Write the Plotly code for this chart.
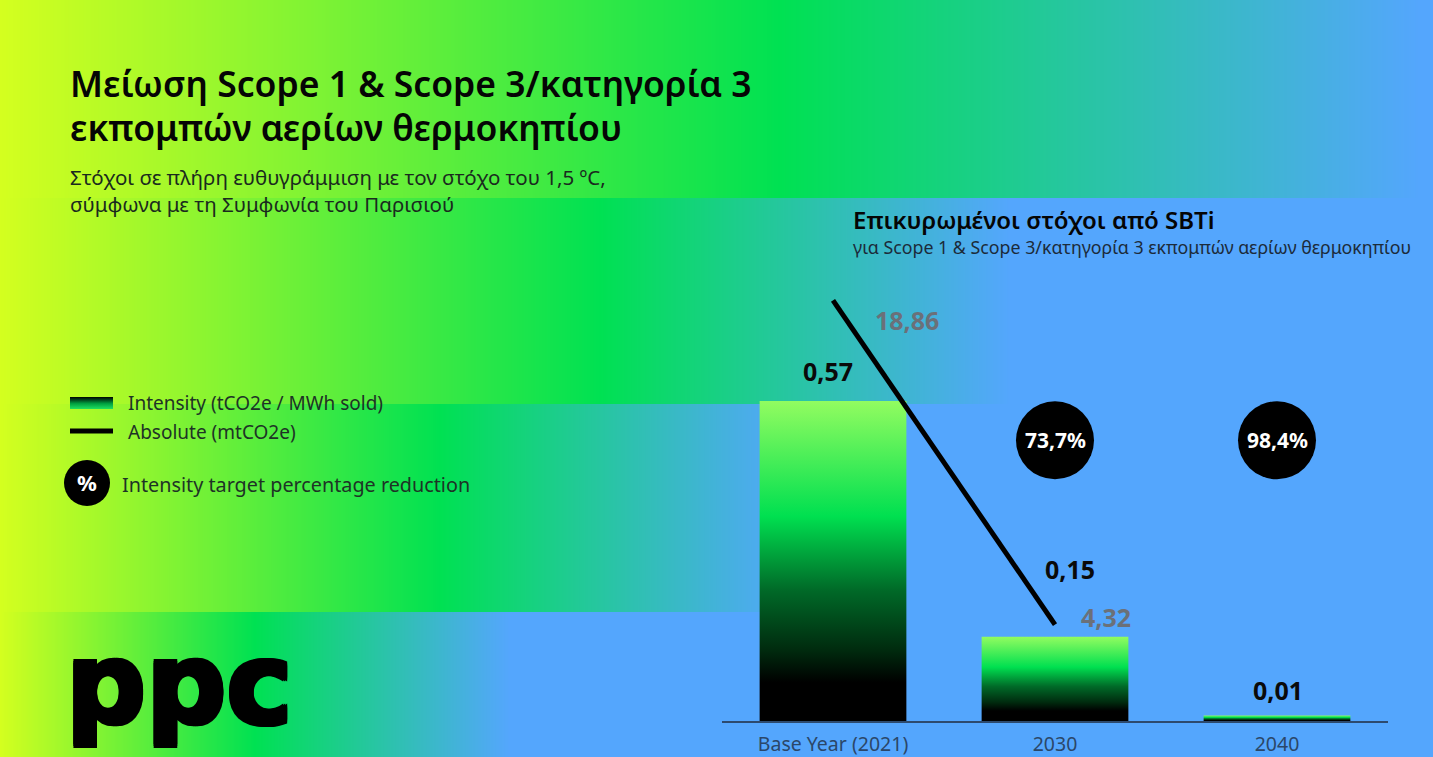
import numpy as np, zlib, struct, base64
import plotly.graph_objects as go

# ---------------- data ----------------
categories = ["Base Year (2021)", "2030", "2040"]
intensity = [0.57, 0.15, 0.01]            # tCO2e / MWh sold (bars)
absolute = [18.86, 4.32]                   # mtCO2e (line, Base Year -> 2030)
reduction = [None, "73,7%", "98,4%"]       # intensity target reduction

W, H = 1433, 757

def fmt(v):
    return f"{v:.2f}".replace(".", ",")

# ---------------- background image (banded gradient) ----------------
bands = [(0, 198, 780, 1420), (198, 404, 600, 1010), (404, 612, 440, 790), (612, 757, 255, 510)]
YEL = np.array([212, 255, 31], float)
GRN = np.array([0, 225, 82], float)
BLU = np.array([84, 166, 253], float)
img = np.zeros((H, W, 3), np.uint8)
xs = np.arange(W) + 0.5
for y0, y1, g, b in bands:
    t1 = np.clip(xs / g, 0, 1)[:, None]
    t2 = np.clip((xs - g) / (b - g), 0, 1)[:, None]
    row = np.where(xs[:, None] < g, YEL + (GRN - YEL) * t1, GRN + (BLU - GRN) * t2)
    img[y0:y1] = np.round(row).astype(np.uint8)
raw = b"".join(b"\x00" + img[r].tobytes() for r in range(H))

def chunk(tag, data):
    return struct.pack(">I", len(data)) + tag + data + struct.pack(">I", zlib.crc32(tag + data) & 0xffffffff)

png = (b"\x89PNG\r\n\x1a\n" + chunk(b"IHDR", struct.pack(">IIBBBBB", W, H, 8, 2, 0, 0, 0))
       + chunk(b"IDAT", zlib.compress(raw, 9)) + chunk(b"IEND", b""))
bg_uri = "data:image/png;base64," + base64.b64encode(png).decode()

def px(x):
    return x / W

def py(y):
    return 1 - y / H

FONT = "Noto Sans"
bar_scale = [[0, "#000000"], [0.12, "#000000"], [0.22, "#002a0e"], [0.41, "#006a28"],
             [0.64, "#00e050"], [1, "#92fc60"]]

fig = go.Figure()

# ---------------- bars (gradient-filled) ----------------
bw = 0.661
for i, v in enumerate(intensity):
    fig.add_trace(go.Scatter(
        x=[i - bw / 2, i + bw / 2, i + bw / 2, i - bw / 2, i - bw / 2],
        y=[0, 0, v, v, 0], mode="lines", line=dict(width=0),
        fill="toself", fillgradient=dict(type="vertical", colorscale=bar_scale),
        xaxis="x", yaxis="y", showlegend=False, hoverinfo="skip"))

# ---------------- absolute line ----------------
fig.add_trace(go.Scatter(x=[0, 1], y=absolute, mode="lines",
                         line=dict(color="#000000", width=5),
                         xaxis="x", yaxis="y2", showlegend=False, hoverinfo="skip"))

# ---------------- legend swatch (pixel axes) ----------------
fig.add_trace(go.Scatter(x=[70, 113, 113, 70, 70], y=[397, 397, 409, 409, 397],
                         mode="lines", line=dict(width=0), fill="toself",
                         fillgradient=dict(type="vertical",
                                           colorscale=[[0, "#20e060"], [0.45, "#00a040"], [1, "#000000"]]),
                         xaxis="x3", yaxis="y3", showlegend=False, hoverinfo="skip"))

annotations = []
shapes = []

VAL = 25
# value labels
annotations.append(dict(x=0, y=intensity[0], xref="x", yref="y", text=f"<b>{fmt(intensity[0])}</b>",
                        showarrow=False, xshift=-5, yshift=30,
                        font=dict(family=FONT, size=VAL, color="#0a0a0a")))
annotations.append(dict(x=1, y=intensity[1], xref="x", yref="y", text=f"<b>{fmt(intensity[1])}</b>",
                        showarrow=False, xshift=15, yshift=68,
                        font=dict(family=FONT, size=VAL, color="#0a0a0a")))
annotations.append(dict(x=2, y=intensity[2], xref="x", yref="y", text=f"<b>{fmt(intensity[2])}</b>",
                        showarrow=False, xshift=1, yshift=25,
                        font=dict(family=FONT, size=VAL, color="#0a0a0a")))
annotations.append(dict(x=0, y=absolute[0], xref="x", yref="y2", text=f"<b>{fmt(absolute[0])}</b>",
                        showarrow=False, xshift=74, yshift=-20,
                        font=dict(family=FONT, size=VAL, color="#6b7079")))
annotations.append(dict(x=1, y=absolute[1], xref="x", yref="y2", text=f"<b>{fmt(absolute[1])}</b>",
                        showarrow=False, xshift=51, yshift=8,
                        font=dict(family=FONT, size=VAL, color="#6b7079")))

# reduction circles
circle_y = 0.50
for i, r in enumerate(reduction):
    if r is None:
        continue
    shapes.append(dict(type="circle", xref="x", yref="y", xsizemode="pixel", ysizemode="pixel",
                       xanchor=i, yanchor=circle_y, x0=-39, x1=39, y0=-39, y1=39,
                       fillcolor="#000000", line=dict(width=0)))
    annotations.append(dict(x=i, y=circle_y, xref="x", yref="y", text=f"<b>{r}</b>", showarrow=False,
                            font=dict(family=FONT, size=21, color="#ffffff")))

# titles
annotations += [
    dict(x=px(68), y=py(83), xref="paper", yref="paper", xanchor="left", yanchor="middle", showarrow=False,
         text="Μείωση Scope 1 & Scope 3/κατηγορία 3",
         font=dict(family=FONT, size=35.5, color="#050505", weight=600)),
    dict(x=px(68), y=py(127), xref="paper", yref="paper", xanchor="left", yanchor="middle", showarrow=False,
         text="εκπομπών αερίων θερμοκηπίου",
         font=dict(family=FONT, size=35.5, color="#050505", weight=600)),
    dict(x=px(68), y=py(190.5), xref="paper", yref="paper", xanchor="left", yanchor="middle", showarrow=False,
         align="left",
         text="Στόχοι σε πλήρη ευθυγράμμιση με τον στόχο του 1,5 ºC,<br>σύμφωνα με τη Συμφωνία του Παρισιού",
         font=dict(family=FONT, size=20.5, color="#1a2a1e")),
    dict(x=px(851), y=py(220), xref="paper", yref="paper", xanchor="left", yanchor="middle", showarrow=False,
         text="Επικυρωμένοι στόχοι από SBTi",
         font=dict(family=FONT, size=24, color="#050505", weight=600)),
    dict(x=px(851), y=py(247), xref="paper", yref="paper", xanchor="left", yanchor="middle", showarrow=False,
         text="για Scope 1 & Scope 3/κατηγορία 3 εκπομπών αερίων θερμοκηπίου",
         font=dict(family=FONT, size=17.8, color="#1c2b3a")),
]

# custom legend
annotations += [
    dict(x=px(126), y=py(403), xref="paper", yref="paper", xanchor="left", yanchor="middle", showarrow=False,
         text="Intensity (tCO2e / MWh sold)", font=dict(family=FONT, size=19, color="#1e3326")),
    dict(x=px(126), y=py(432), xref="paper", yref="paper", xanchor="left", yanchor="middle", showarrow=False,
         text="Absolute (mtCO2e)", font=dict(family=FONT, size=19, color="#1e3326")),
    dict(x=px(120), y=py(484), xref="paper", yref="paper", xanchor="left", yanchor="middle", showarrow=False,
         text="Intensity target percentage reduction", font=dict(family=FONT, size=19.8, color="#1e3326")),
    dict(x=px(87), y=py(482), xref="paper", yref="paper", xanchor="center", yanchor="middle", showarrow=False,
         text="<b>%</b>", font=dict(family=FONT, size=22, color="#ffffff")),
    dict(x=px(64), y=py(684), xref="paper", yref="paper", xanchor="left", yanchor="middle", showarrow=False,
         text="<b>ppc</b>",
         font=dict(family="DejaVu Sans", size=112, color="#000000",
                   shadow="2px 0 #000, -2px 0 #000, 0 2px #000, 0 -2px #000, "
                          "2px 2px #000, -2px -2px #000, 2px -2px #000, -2px 2px #000")),
]
shapes += [
    dict(type="line", xref="paper", yref="paper", x0=px(70), x1=px(113), y0=py(431), y1=py(431),
         line=dict(color="#000000", width=5)),
    dict(type="circle", xref="paper", yref="paper", x0=px(64), x1=px(110), y0=py(506), y1=py(460),
         fillcolor="#000000", line=dict(width=0)),
]

y_top_px = 280
base_px = 721
fig.update_layout(
    width=W, height=H, margin=dict(l=0, r=0, t=0, b=0),
    paper_bgcolor="#54a6fd", plot_bgcolor="rgba(0,0,0,0)",
    images=[dict(source=bg_uri, xref="paper", yref="paper", x=0, y=1, sizex=1, sizey=1,
                 xanchor="left", yanchor="top", sizing="stretch", layer="below")],
    xaxis=dict(domain=[px(722), px(1388)], range=[-0.5, 2.5], tickmode="array", tickvals=[0, 1, 2],
               ticktext=categories, showgrid=False, zeroline=False, showline=True,
               linecolor="#2d4a6e", linewidth=1.5, ticks="", ticklabelstandoff=5,
               tickfont=dict(family=FONT, size=19.5, color="#2b4769"), fixedrange=True),
    yaxis=dict(domain=[1 - base_px / H, 1 - y_top_px / H], range=[0, (base_px - y_top_px) / 561.4],
               visible=False, fixedrange=True),
    yaxis2=dict(overlaying="y", range=[0, (base_px - y_top_px) / 22.3], visible=False, fixedrange=True),
    xaxis3=dict(domain=[0, 1], range=[0, W], visible=False, anchor="y3", fixedrange=True),
    yaxis3=dict(domain=[0, 1], range=[H, 0], visible=False, anchor="x3", fixedrange=True),
    annotations=annotations, shapes=shapes, showlegend=False,
)

fig.write_html("out.html", config={"displayModeBar": False},
               post_script="document.body.style.margin='0px';document.body.style.padding='0px';")
